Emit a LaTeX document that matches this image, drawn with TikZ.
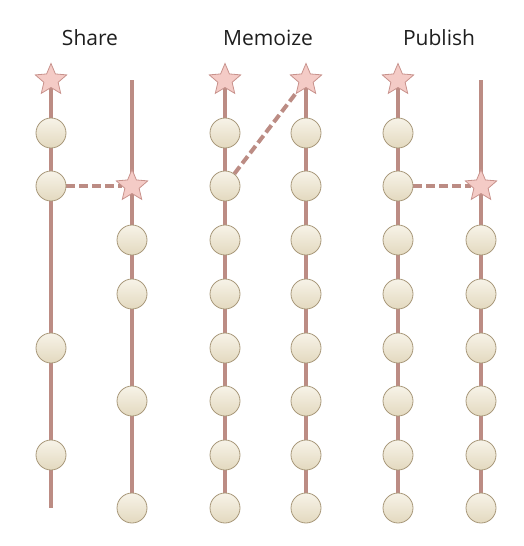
\documentclass[tikz,border=0pt]{standalone}
\usepackage{fontspec}
\setmainfont{Open Sans}
\usetikzlibrary{shapes.geometric,backgrounds}
\definecolor{branchc}{HTML}{BC8C84}
\definecolor{commitline}{HTML}{A8987A}
\definecolor{committop}{HTML}{F7F3E8}
\definecolor{commitbot}{HTML}{E3D9BF}
\definecolor{tipfill}{HTML}{F4CBC6}
\definecolor{tipline}{HTML}{C8928C}
\definecolor{titlec}{HTML}{1E1E1E}
\begin{document}
\begin{tikzpicture}[x=1pt, y=-1pt,
        commit/.style={circle, draw=commitline, line width=0.8pt, top color=committop,
            bottom color=commitbot, minimum size=30pt, inner sep=0pt},
        tip/.style={star, star points=5, star point ratio=2.2, draw=tipline, fill=tipfill,
            line width=0.8pt, minimum size=33pt, inner sep=0pt},
        branch/.style={draw=branchc, line width=4pt},
        link/.style={branch, dash pattern=on 9pt off 4pt},
        title/.style={font=\fontsize{21}{24}\selectfont, text=titlec, anchor=base}
    ]
    \useasboundingbox (0,0) rectangle (524,546);

    % titles
    \node[title] (share) at (90,45) {Share};
    \node[title] (memoize) at (268,45) {Memoize};
    \node[title] (publish) at (439,45) {Publish};

    % Share
    \node[tip] (sl0) at (51,80) {};
    \node[commit] (sl1) at (51,133) {};
    \node[commit] (sl2) at (51,186) {};
    \node[commit] (sl5) at (51,348) {};
    \node[commit] (sl7) at (51,455) {};
    \coordinate (slend) at (51,508);
    \coordinate (srtop) at (132,80);
    \node[tip] (sr2) at (132,186) {};
    \node[commit] (sr3) at (132,240) {};
    \node[commit] (sr4) at (132,294) {};
    \node[commit] (sr6) at (132,401) {};
    \node[commit] (sr8) at (132,508) {};

    % Memoize
    \node[tip] (ml0) at (225,80) {};
    \node[tip] (mr0) at (306,80) {};
    \foreach \i/\y in {1/133,2/186,3/240,4/294,5/348,6/401,7/455,8/508} {
        \node[commit] (ml\i) at (225,\y) {};
        \node[commit] (mr\i) at (306,\y) {};
    }

    % Publish
    \node[tip] (pl0) at (398,80) {};
    \foreach \i/\y in {1/133,2/186,3/240,4/294,5/348,6/401,7/455,8/508}
        \node[commit] (pl\i) at (398,\y) {};
    \coordinate (prtop) at (481,80);
    \node[tip] (pr2) at (481,186) {};
    \foreach \i/\y in {3/240,4/294,5/348,6/401,7/455,8/508}
        \node[commit] (pr\i) at (481,\y) {};

    \begin{scope}[on background layer]
        \draw[branch] (sl0.center) -- (slend);
        \draw[branch] (srtop) -- (sr8.center);
        \draw[branch] (ml0.center) -- (ml8.center);
        \draw[branch] (mr0.center) -- (mr8.center);
        \draw[branch] (pl0.center) -- (pl8.center);
        \draw[branch] (prtop) -- (pr8.center);
        \draw[link] (sl2) -- (sr2);
        \draw[link] (ml2) -- (mr0);
        \draw[link] (pl2) -- (pr2);
    \end{scope}
\end{tikzpicture}
\end{document}
